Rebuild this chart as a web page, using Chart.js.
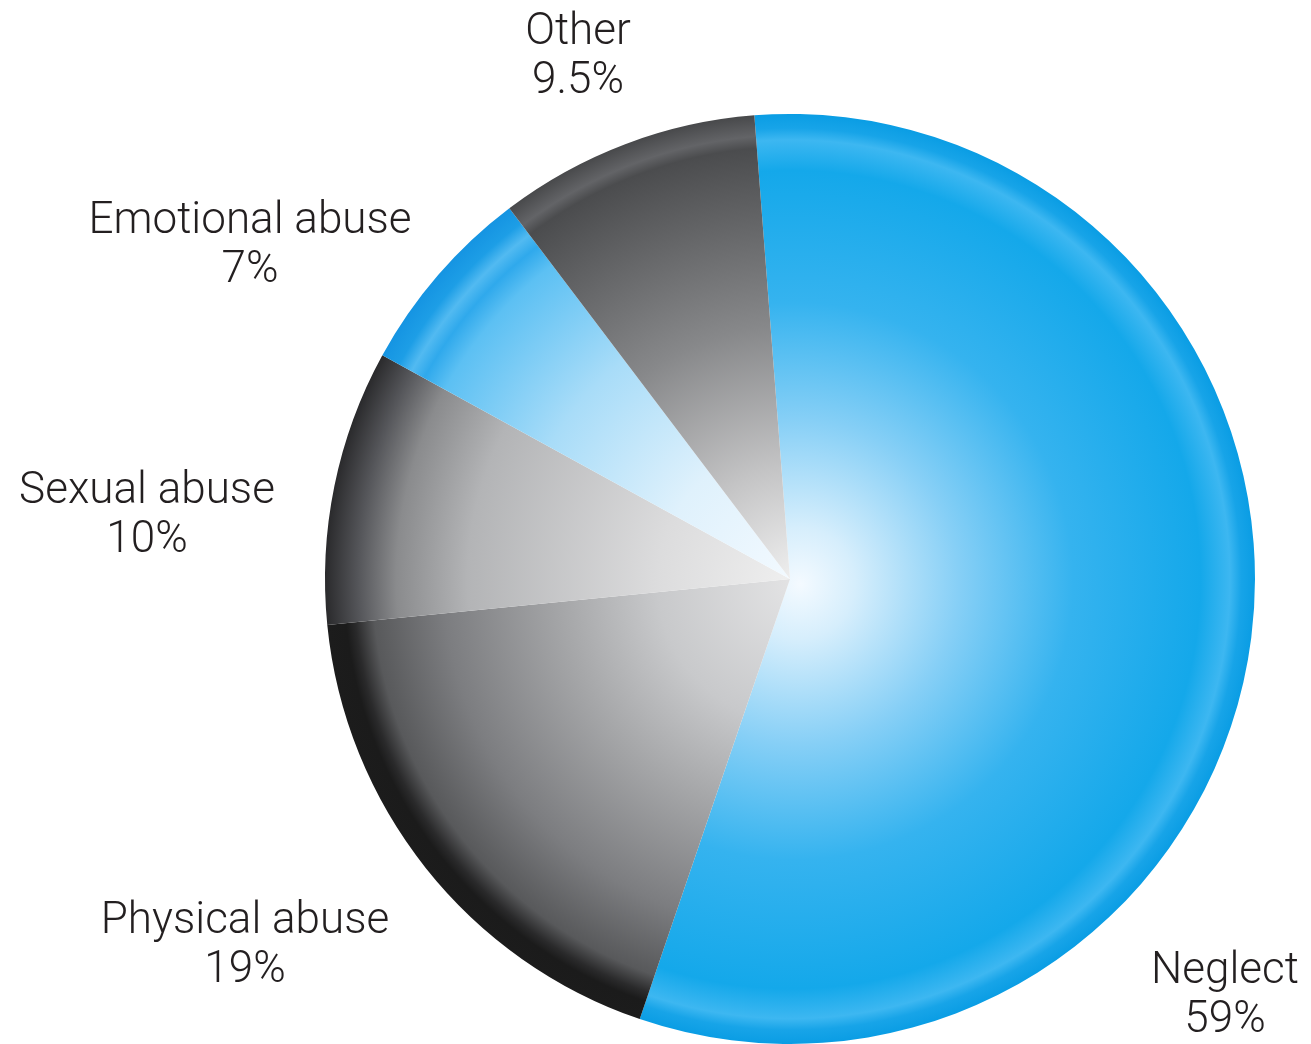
<html>
<head>
<meta charset="utf-8">
<script src="https://cdn.jsdelivr.net/npm/chart.js@4.4.0/dist/chart.umd.min.js"></script>
<title>Maltreatment types</title>
<style>
  body { margin: 0; background: #fff; }
</style>
</head>
<body>
<canvas id="pie" width="1311" height="1044"></canvas>
<script>
// data
const categories = ['Neglect', 'Physical abuse', 'Sexual abuse', 'Emotional abuse', 'Other'];
const values = [59, 19, 10, 7, 9.5];
const valueLabels = ['59%', '19%', '10%', '7%', '9.5%'];

// radial shading per slice (center -> rim)
const blueStops = [[0, '#f4faff'], [0.12, '#d6eefc'], [0.35, '#86cff6'], [0.6, '#35b3ef'], [0.88, '#14a8ea'], [0.945, '#3db7f1'], [0.97, '#17a4e8'], [1, '#0a9de4']];
const emoStops = [[0, '#f4faff'], [0.3, '#dff1fc'], [0.6, '#a8dcf8'], [0.85, '#5cc0f3'], [0.9, '#2fa9ec'], [0.93, '#52baf1'], [0.96, '#1d9ee6'], [1, '#1594e2']];
const otherStops = [[0, '#f2f2f2'], [0.25, '#c4c4c5'], [0.55, '#87888a'], [0.85, '#58595b'], [0.93, '#4b4c4e'], [0.955, '#636467'], [1, '#48494b']];
const sexStops = [[0, '#f0f0f0'], [0.3, '#dcdcdd'], [0.7, '#b3b4b6'], [0.85, '#8a8b8d'], [0.93, '#55565a'], [1, '#2a2a2c']];
const physStops = [[0, '#e4e4e5'], [0.3, '#c8c9cb'], [0.5, '#a6a7a9'], [0.75, '#7c7d80'], [0.9, '#58595b'], [0.94, '#2a2a2b'], [0.96, '#1b1b1b'], [1, '#1c1c1c']];
const sliceStops = [blueStops, physStops, sexStops, emoStops, otherStops];

// text offsets (first-line baseline) from the pie centre
const labelOffsets = [[435, 404], [-545, 354], [-643, -76], [-540, -346], [-212, -535]];

function shade(ctx) {
  const chart = ctx.chart;
  const area = chart.chartArea;
  if (!area) return '#888';
  const cx = (area.left + area.right) / 2;
  const cy = (area.top + area.bottom) / 2;
  const r = Math.min(area.right - area.left, area.bottom - area.top) / 2;
  const g = chart.ctx.createRadialGradient(cx + 10, cy + 5, 0, cx, cy, r);
  sliceStops[ctx.dataIndex].forEach(s => g.addColorStop(s[0], s[1]));
  return g;
}

const outsideLabels = {
  id: 'outsideLabels',
  afterDraw(chart) {
    const c = chart.ctx;
    const arcs = chart.getDatasetMeta(0).data;
    c.save();
    c.fillStyle = '#231f20';
    c.font = '300 44px Roboto';
    c.textAlign = 'center';
    c.textBaseline = 'alphabetic';
    arcs.forEach((arc, i) => {
      const x = arc.x + labelOffsets[i][0];
      const y = arc.y + labelOffsets[i][1];
      c.fillText(categories[i], x, y);
      c.fillText(valueLabels[i], x, y + 49);
    });
    c.restore();
  }
};

new Chart(document.getElementById('pie'), {
  type: 'pie',
  data: {
    labels: categories,
    datasets: [{
      data: values,
      backgroundColor: shade,
      borderWidth: 0
    }]
  },
  options: {
    responsive: false,
    animation: false,
    rotation: -4.4,
    layout: { padding: { left: 325, right: 56, top: 114, bottom: 0 } },
    plugins: {
      legend: { display: false },
      tooltip: { enabled: false }
    }
  },
  plugins: [outsideLabels]
});
</script>
</body>
</html>
